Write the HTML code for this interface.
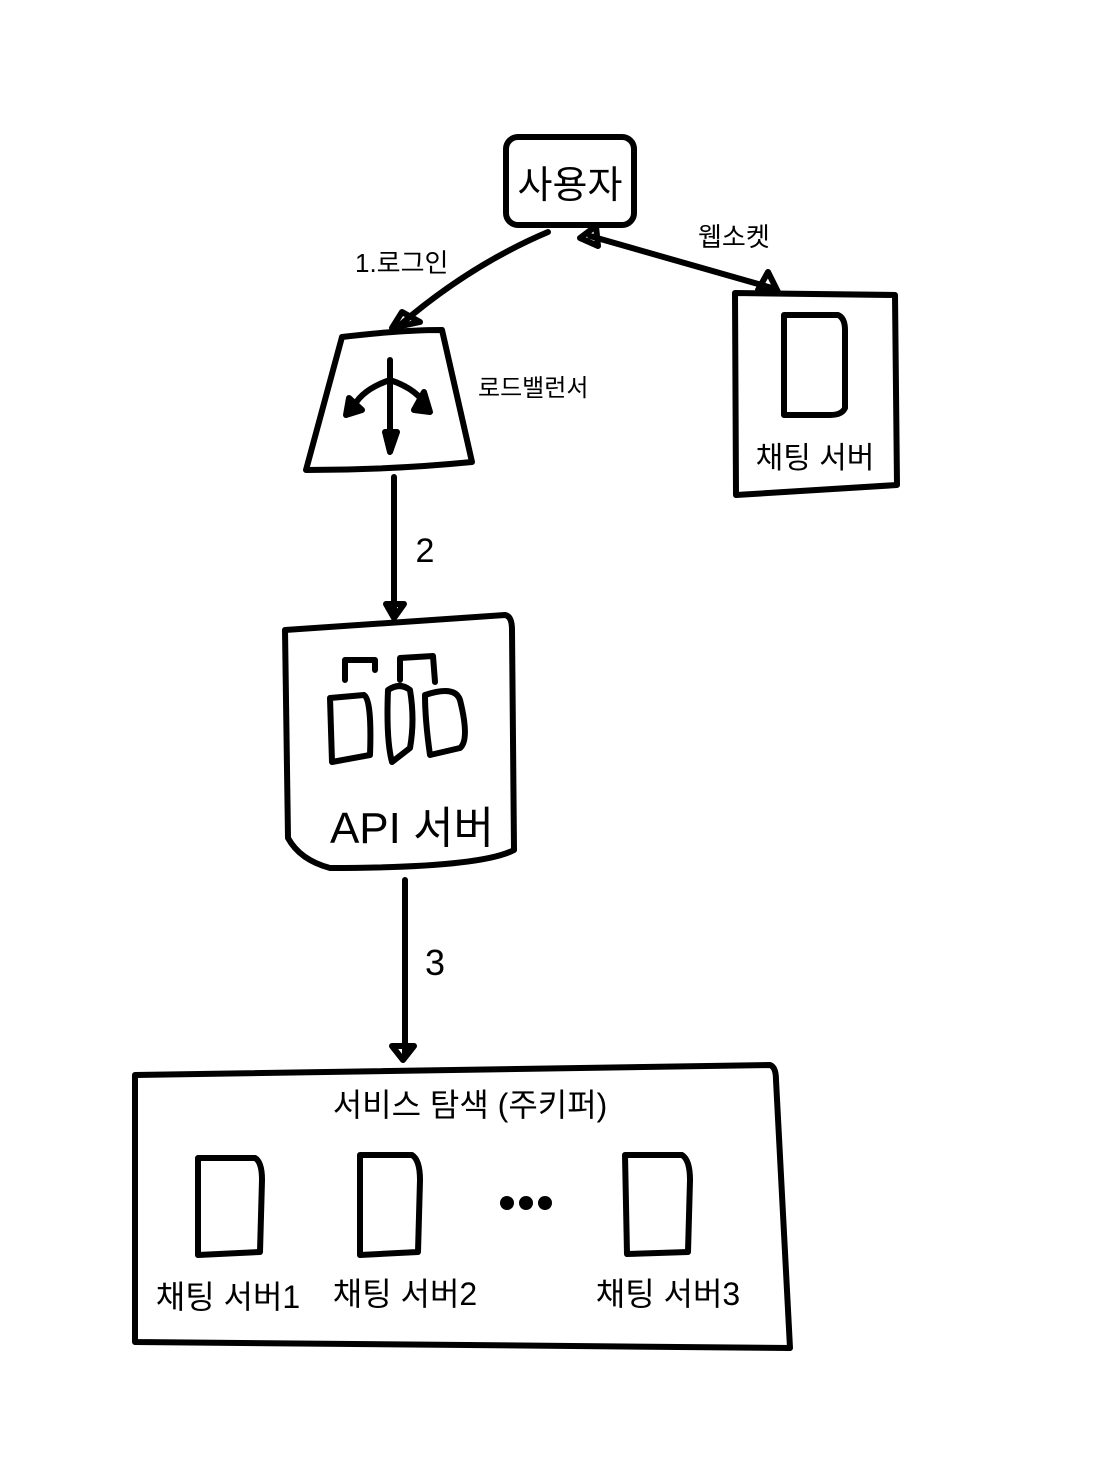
<!DOCTYPE html>
<html><head><meta charset="utf-8"><style>
html,body{margin:0;padding:0;background:#fff;}
svg{display:block;}
text{font-family:"Liberation Sans","Noto Sans CJK KR","NanumGothic",sans-serif;fill:#000;}
</style></head><body>
<svg width="1098" height="1481" viewBox="0 0 1098 1481" xmlns="http://www.w3.org/2000/svg">
<g fill="none" stroke="#000" stroke-width="6" stroke-linecap="round" stroke-linejoin="round">
<rect x="506" y="137" width="128" height="88" rx="12"/>
<path d="M548 232 Q470 265 400 325"/>
<path d="M392 328 L402 312 L420 322 Z"/>
<path d="M590 236 Q680 262 772 288"/>
<path d="M580 238 L596 226 L598 246 Z"/>
<path d="M778 292 L758 290 L768 272 Z"/>
<path d="M735 293 L895 295 L897 485 L736 495 Z"/>
<path d="M784 315 L838 315 Q845 318 845 330 L845 408 Q842 415 830 415 L784 415 Z"/>
<path d="M342 337 Q400 330 442 330 L472 462 Q390 470 306 470 Z"/>
<path d="M390 360 L390 448"/>
<path d="M390 380 Q360 390 352 410"/>
<path d="M390 380 Q420 390 428 410"/>
<path d="M385 432 L390 452 L397 432 Z" fill="#000"/>
<path d="M349 398 L346 415 L362 410 Z" fill="#000"/>
<path d="M424 392 L430 412 L414 410 Z" fill="#000"/>
<path d="M394 477 L394 612"/>
<path d="M386 604 L394 618 L404 604 Z"/>
<path d="M285 630 L505 615 Q512 616 512 630 L514 850 Q480 868 330 868 Q300 860 288 838 Z"/>
<path d="M345 680 L345 660 L375 660 L375 670"/>
<path d="M400 680 L400 658 L433 656 L435 682"/>
<path d="M330 698 L364 695 Q372 700 370 755 L332 762 Z"/>
<path d="M388 690 Q400 682 410 690 Q415 720 410 748 L392 762 Q386 740 388 690 Z"/>
<path d="M425 695 Q455 685 460 700 Q470 740 460 748 L430 755 Q425 720 425 695 Z"/>
<path d="M405 880 L405 1055"/>
<path d="M392 1046 L403 1060 L414 1046 Z"/>
<path d="M135 1075 L770 1065 Q776 1067 776 1080 L790 1348 L135 1342 Z"/>
<path d="M198 1158 L255 1158 Q262 1162 262 1180 L260 1252 L198 1255 Z"/>
<path d="M360 1155 L412 1155 Q420 1160 420 1180 L418 1252 L360 1255 Z"/>
<path d="M625 1155 L682 1155 Q690 1160 690 1180 L688 1252 L627 1254 Z"/>
</g>
<circle cx="507" cy="1203" r="7"/><circle cx="526" cy="1203" r="7"/><circle cx="545" cy="1203" r="7"/>
<text x="570" y="198" font-size="38" text-anchor="middle">사용자</text>
<text x="355" y="272" font-size="26">1.로그인</text>
<text x="698" y="246" font-size="26">웹소켓</text>
<text x="478" y="396" font-size="24">로드밸런서</text>
<text x="815" y="468" font-size="30" text-anchor="middle">채팅 서버</text>
<text x="425" y="562" font-size="34" text-anchor="middle">2</text>
<text x="412" y="843" font-size="44" text-anchor="middle">API 서버</text>
<text x="435" y="975" font-size="36" text-anchor="middle">3</text>
<text x="470" y="1116" font-size="32" text-anchor="middle">서비스 탐색 (주키퍼)</text>
<text x="228" y="1308" font-size="32" text-anchor="middle">채팅 서버1</text>
<text x="405" y="1305" font-size="32" text-anchor="middle">채팅 서버2</text>
<text x="668" y="1305" font-size="32" text-anchor="middle">채팅 서버3</text>
</svg>
</body></html>
